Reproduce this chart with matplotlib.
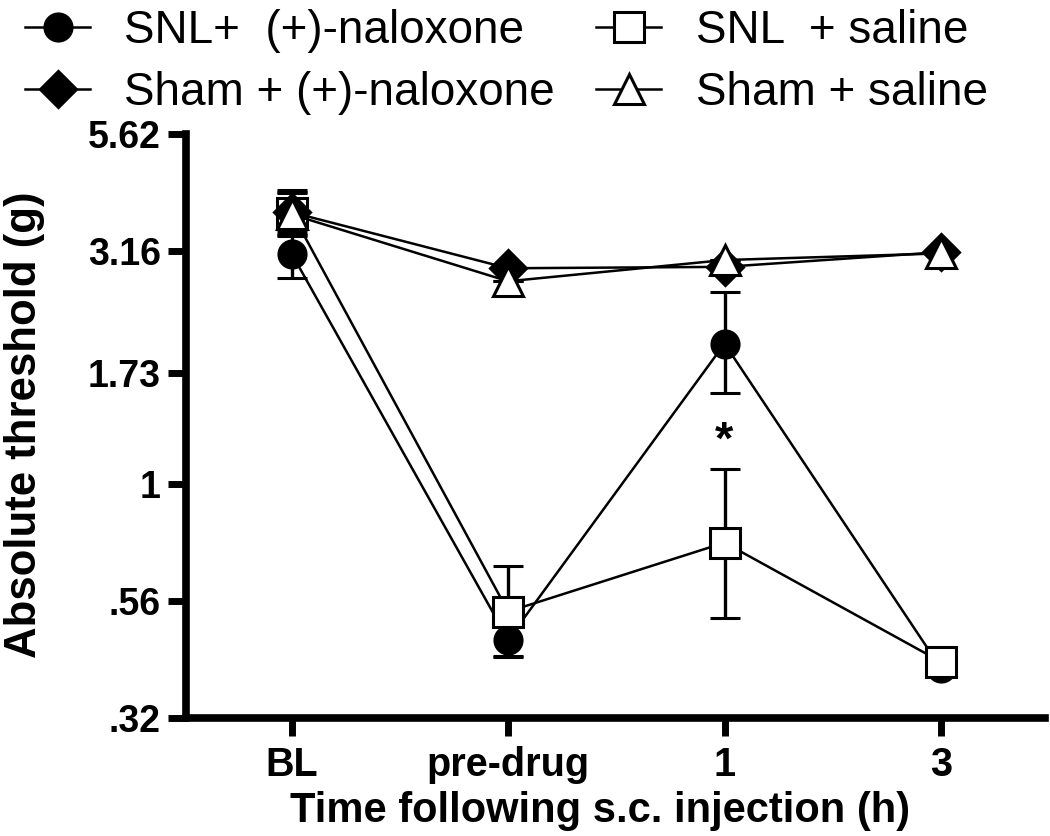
import numpy as np
import matplotlib.pyplot as plt
from matplotlib.lines import Line2D

## Values (threshold in g, log axis);
## error bars are symmetric in log space so keep lower/upper ends
timepoints = ['BL', 'pre-drug', '1', '3']
snl_nal = [3.11, 0.465, 2.00, 0.404]
snl_nal_lo = [2.77, 0.430, 1.57, 0.404]
snl_nal_hi = [3.50, 0.502, 2.58, 0.404]
snl_sal = [3.81, 0.534, 0.750, 0.417]
snl_sal_lo = [3.40, 0.427, 0.518, 0.417]
snl_sal_hi = [4.27, 0.667, 1.08, 0.417]
sham_nal = [3.82, 2.90, 2.92, 3.14]
sham_nal_lo = [3.45, 2.90, 2.92, 3.14]
sham_nal_hi = [4.22, 2.90, 2.92, 3.14]
sham_sal = [3.78, 2.72, 3.02, 3.12]
sham_sal_lo = [3.42, 2.72, 3.02, 3.12]
sham_sal_hi = [4.20, 2.72, 3.02, 3.12]
yticks = [0.316, 0.562, 1.0, 1.73, 3.16, 5.62]
yticklabels = ['.32', '.56', '1', '1.73', '3.16', '5.62']

plt.rcParams['font.family'] = ['Liberation Sans', 'DejaVu Sans']

fig = plt.figure(figsize=(10.5, 8.36), dpi=100)
ax = fig.add_axes([0.177, 0.1411, 0.818, 0.6986])

x = np.arange(len(timepoints))
## drawn bottom to top: circle, square, diamond, triangle
series = [
    (snl_nal, snl_nal_lo, snl_nal_hi, 'o', 'black', 19.5),
    (snl_sal, snl_sal_lo, snl_sal_hi, 's', 'white', 21),
    (sham_nal, sham_nal_lo, sham_nal_hi, 'D', 'black', 18),
    (sham_sal, sham_sal_lo, sham_sal_hi, '^', 'white', 21),
]
for vals, lo, hi, mk, fc, ms in series:
    vals = np.array(vals)
    err = [vals - np.array(lo), np.array(hi) - vals]
    ax.errorbar(x, vals, yerr=err, marker=mk, markersize=ms, markerfacecolor=fc,
                markeredgecolor='black', markeredgewidth=2.2, color='black',
                linewidth=1.8, capsize=11, capthick=2.4, elinewidth=2.4)

## Significance star between the 1 h points
ax.text(2, 1.235, '*', ha='center', va='center', fontsize=34, fontweight='bold')

ax.set_yscale('log')
ax.set_ylim(0.316, 5.62)
ax.set_yticks(yticks)
ax.set_yticklabels(yticklabels)
ax.minorticks_off()
ax.set_xlim(-0.49, 3.48)
ax.set_xticks(x)
ax.set_xticklabels(timepoints)

for side in ['top', 'right']:
    ax.spines[side].set_visible(False)
for side in ['left', 'bottom']:
    ax.spines[side].set_linewidth(5.5)
ax.tick_params(axis='y', direction='out', length=13, width=5, labelsize=27, pad=5)
ax.tick_params(axis='x', direction='out', length=13, width=5, labelsize=28.5, pad=7)
for t in ax.get_xticklabels() + ax.get_yticklabels():
    t.set_fontweight('bold')

fig.text(25 / 1050, 1 - 425 / 836, 'Absolute threshold (g)', rotation=90,
         ha='center', va='center', fontsize=31.5, fontweight='bold')
fig.text(600 / 1050, 1 - 811 / 836, 'Time following s.c. injection (h)',
         ha='center', va='center', fontsize=30, fontweight='bold')

## Legend across the top, two columns (marker with a short line through it)
def proxy(mk, fc, ms):
    return Line2D([], [], color='black', linewidth=1.8, marker=mk, markersize=ms,
                  markerfacecolor=fc, markeredgecolor='black', markeredgewidth=2.2)

handles = [proxy('o', 'black', 19.5), proxy('D', 'black', 18),
           proxy('s', 'white', 22), proxy('^', 'white', 21)]
labels = ['SNL+  (+)-naloxone', 'Sham + (+)-naloxone', 'SNL  + saline', 'Sham + saline']
fig.legend(handles, labels, loc='upper left', bbox_to_anchor=(25 / 1050, 0.989),
           ncol=2, frameon=False, borderpad=0, borderaxespad=0,
           prop={'size': 33}, handlelength=1.42, handletextpad=0.75,
           columnspacing=0.9, labelspacing=0.38)

plt.savefig('out.png', dpi=100)
